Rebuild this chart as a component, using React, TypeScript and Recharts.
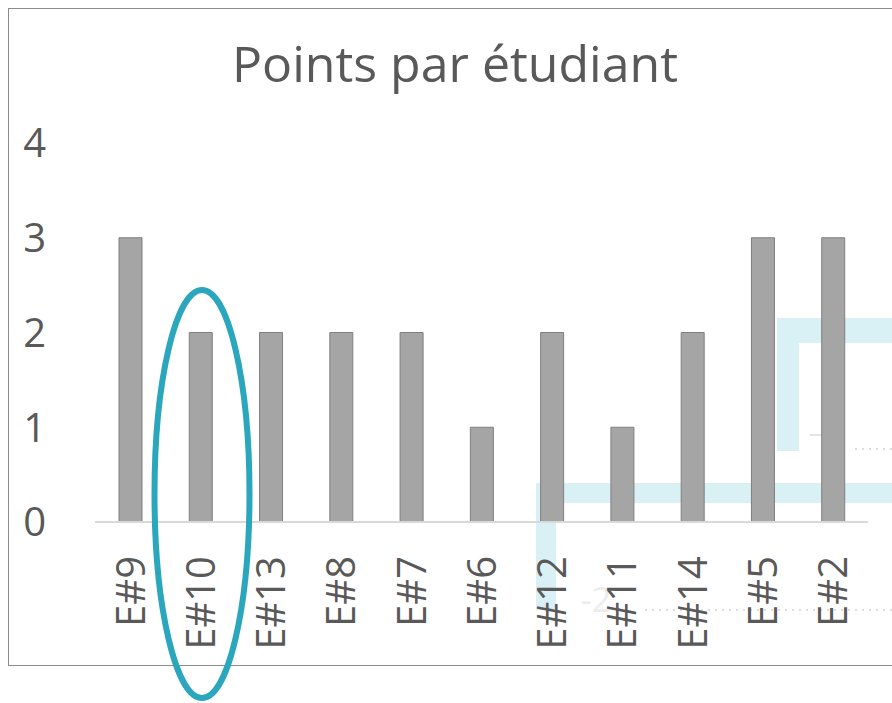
import React from "react";
import { BarChart, Bar, XAxis, YAxis } from "recharts";

const students = ["E#9", "E#10", "E#13", "E#8", "E#7", "E#6", "E#12", "E#11", "E#14", "E#5", "E#2"];
const points = [3, 2, 2, 2, 2, 1, 2, 1, 2, 3, 3];
const yTicks = [0, 1, 2, 3, 4];
const title = "Points par étudiant";

const data = students.map((s, i) => ({ name: s, points: points[i] }));

const FONT = "'Open Sans', 'Noto Sans', sans-serif";
const TEXT = "#595959";

const XTick = (props: any) => {
  const { x, y, payload } = props;
  return (
    <g transform={`translate(${x},${y})`}>
      <text
        transform="rotate(-90)"
        textAnchor="end"
        dy="0.36em"
        fill={TEXT}
        fontFamily={FONT}
        fontSize={40}
      >
        {payload.value}
      </text>
    </g>
  );
};

const YTick = (props: any) => {
  const { x, y, payload } = props;
  return (
    <text x={x} y={y} dy="0.36em" textAnchor="end" fill={TEXT} fontFamily={FONT} fontSize={40}>
      {payload.value}
    </text>
  );
};

export default function App() {
  return (
    <div style={{ position: "relative", width: 892, height: 703, overflow: "hidden", background: "#fff" }}>
      <style>{"html,body{margin:0;padding:0;overflow:hidden;}"}</style>
      {/* faint background shapes */}
      <svg
        width={892}
        height={703}
        style={{ position: "absolute", left: 0, top: 0, pointerEvents: "none" }}
      >
        <g fill="#d9f0f5">
          <rect x={536} y={483} width={356} height={20} />
          <rect x={536} y={483} width={20} height={127} />
          <rect x={777} y={318} width={115} height={25} />
          <rect x={777} y={318} width={22} height={133} />
        </g>
        <line x1={810} y1={435} x2={824} y2={435} stroke="#e3e3e3" strokeWidth={2} />
        <line x1={855} y1={449} x2={892} y2={449} stroke="#dcdcdc" strokeWidth={2} strokeDasharray="2 5" />
        <line x1={645} y1={610} x2={892} y2={610} stroke="#dcdcdc" strokeWidth={2} strokeDasharray="2 5" />
        <text x={596} y={612} fontFamily={FONT} fontSize={34} fill="#ececec" textAnchor="middle">
          -2
        </text>
      </svg>
      <div
        style={{
          position: "absolute",
          left: 8,
          top: 8,
          width: 900,
          height: 658,
          border: "1px solid #8c8c8c",
          boxSizing: "border-box",
        }}
      >
        <div
          style={{
            position: "absolute",
            left: 0,
            top: 23,
            width: 892,
            textAlign: "center",
            fontFamily: FONT,
            fontSize: 50,
            color: TEXT,
            lineHeight: "62px",
          }}
        >
          {title}
        </div>
        <BarChart
          width={898}
          height={656}
          data={data}
          margin={{ top: 134, right: 39, bottom: 0, left: 0 }}
          barCategoryGap={0}
        >
          <YAxis
            domain={[0, 4]}
            ticks={yTicks}
            width={86}
            axisLine={false}
            tickLine={false}
            tickSize={0}
            tickMargin={49}
            tick={<YTick />}
            interval={0}
          />
          <XAxis
            dataKey="name"
            height={143}
            axisLine={{ stroke: "#d9d9d9", strokeWidth: 2 }}
            tickLine={false}
            tickSize={0}
            tickMargin={34}
            tick={<XTick />}
            interval={0}
          />
          <Bar
            dataKey="points"
            fill="#a5a5a5"
            stroke="#7f7f7f"
            strokeWidth={1}
            barSize={23}
            isAnimationActive={false}
          />
        </BarChart>
      </div>
      <svg
        width={892}
        height={703}
        style={{ position: "absolute", left: 0, top: 0, pointerEvents: "none" }}
      >
        <ellipse cx={202} cy={494} rx={47.5} ry={204} fill="none" stroke="#2aa6bd" strokeWidth={6} />
      </svg>
    </div>
  );
}
